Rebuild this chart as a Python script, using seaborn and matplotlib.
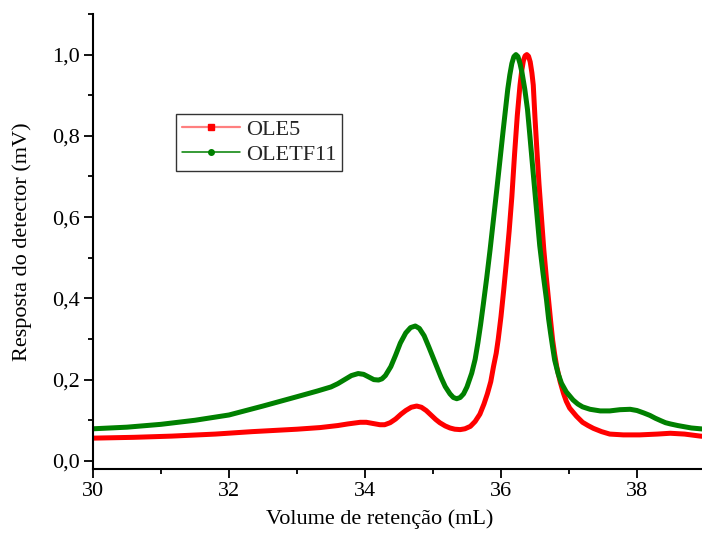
import matplotlib
matplotlib.use("Agg")
import matplotlib.pyplot as plt
from matplotlib.lines import Line2D
from matplotlib.ticker import MultipleLocator, FuncFormatter
import seaborn as sns
import pandas as pd

# Chromatogram readings: retention volume (mL) and detector response (mV)
ole5_volume = [30.0, 30.6, 31.16, 31.8, 32.34, 33.0, 33.34, 33.6, 33.75, 33.93,
               34.02, 34.12, 34.22, 34.29, 34.37, 34.45, 34.53, 34.6, 34.68, 34.76,
               34.83, 34.9, 34.97, 35.04, 35.1, 35.18, 35.25, 35.32, 35.4, 35.47,
               35.55, 35.62, 35.69, 35.75, 35.8, 35.85, 35.89, 35.93, 35.96, 36.0,
               36.04, 36.08, 36.12, 36.16, 36.2, 36.24, 36.28, 36.305,
               36.33, 36.355, 36.38, 36.405, 36.43, 36.455, 36.475, 36.5, 36.53, 36.56,
               36.595, 36.63, 36.665, 36.7, 36.73, 36.76, 36.79, 36.82, 36.87, 36.92,
               36.96, 37.01, 37.06, 37.11, 37.2, 37.28, 37.36, 37.48, 37.6, 37.8,
               38.04, 38.3, 38.49, 38.7, 38.93, 39.0]
ole5_response = [0.056, 0.058, 0.061, 0.066, 0.072, 0.078, 0.082, 0.087, 0.091, 0.095,
                 0.095, 0.092, 0.089, 0.089, 0.094, 0.103, 0.115, 0.124, 0.132, 0.135,
                 0.132, 0.124, 0.113, 0.102, 0.094, 0.086, 0.081, 0.078, 0.077, 0.079,
                 0.085, 0.097, 0.115, 0.140, 0.165, 0.195, 0.232, 0.265, 0.300, 0.355,
                 0.420, 0.490, 0.565, 0.650, 0.755, 0.850, 0.925, 0.960,
                 0.985, 0.997, 1.000, 0.996, 0.982, 0.955, 0.925, 0.845, 0.760, 0.680,
                 0.600, 0.520, 0.455, 0.396, 0.345, 0.297, 0.262, 0.232, 0.195, 0.166,
                 0.147, 0.130, 0.120, 0.110, 0.095, 0.087, 0.080, 0.072, 0.066, 0.064,
                 0.064, 0.066, 0.068, 0.066, 0.061, 0.060]

oletf11_volume = [30.0, 30.5, 31.0, 31.5, 32.0, 32.5, 33.0, 33.3, 33.5, 33.6,
                  33.7, 33.8, 33.9, 33.98, 34.05, 34.13, 34.2, 34.25, 34.3, 34.38,
                  34.45, 34.52, 34.6, 34.67, 34.74, 34.8, 34.87, 34.94, 35.0, 35.06,
                  35.12, 35.18, 35.25, 35.3, 35.35, 35.4, 35.45, 35.5, 35.57, 35.62,
                  35.66, 35.7, 35.74, 35.79, 35.84, 35.89, 35.94, 35.985, 36.03, 36.07,
                  36.1, 36.13, 36.16, 36.19, 36.22, 36.25, 36.28, 36.31, 36.35, 36.39,
                  36.42, 36.46, 36.5, 36.535, 36.57, 36.62, 36.67, 36.7, 36.73, 36.76,
                  36.79, 36.84, 36.89, 36.96, 37.06, 37.13, 37.2, 37.31, 37.46, 37.6,
                  37.75, 37.9, 38.0, 38.1, 38.19, 38.27, 38.35, 38.42, 38.49, 38.6,
                  38.7, 38.8, 38.93, 39.0]
oletf11_response = [0.079, 0.083, 0.090, 0.100, 0.113, 0.135, 0.158, 0.172, 0.182, 0.190,
                    0.200, 0.210, 0.215, 0.213, 0.207, 0.200, 0.199, 0.202, 0.210, 0.232,
                    0.260, 0.290, 0.315, 0.328, 0.332, 0.326, 0.308, 0.280, 0.255, 0.230,
                    0.205, 0.183, 0.165, 0.156, 0.153, 0.156, 0.165, 0.182, 0.216, 0.250,
                    0.290, 0.335, 0.385, 0.450, 0.520, 0.595, 0.670, 0.740, 0.810, 0.870,
                    0.915, 0.950, 0.978, 0.995, 1.000, 0.995, 0.978, 0.955, 0.915, 0.865,
                    0.810, 0.735, 0.660, 0.595, 0.530, 0.460, 0.396, 0.350, 0.314, 0.280,
                    0.248, 0.215, 0.191, 0.170, 0.150, 0.140, 0.133, 0.127, 0.123, 0.123,
                    0.126, 0.127, 0.124, 0.118, 0.112, 0.105, 0.099, 0.094, 0.091, 0.087,
                    0.084, 0.081, 0.079, 0.078]

x_major_ticks = [30, 32, 34, 36, 38]
y_major_ticks = [0.0, 0.2, 0.4, 0.6, 0.8, 1.0]

sns.set_theme(style="ticks")
plt.rcParams["font.family"] = ["Liberation Serif", "DejaVu Serif"]

fig = plt.figure(figsize=(7.02, 5.37), dpi=100)
ax = fig.add_axes([0.1325, 0.1266, 0.8717, 0.8474])

df5 = pd.DataFrame({"v": ole5_volume, "r": ole5_response})
df11 = pd.DataFrame({"v": oletf11_volume, "r": oletf11_response})

sns.lineplot(data=df5, x="v", y="r", ax=ax, color="#ff0000", lw=3.6,
             sort=False, estimator=None, solid_joinstyle="round", solid_capstyle="round")
sns.lineplot(data=df11, x="v", y="r", ax=ax, color="#008000", lw=3.6,
             sort=False, estimator=None, solid_joinstyle="round", solid_capstyle="round")

ax.set_xlim(30, 39)
ax.set_ylim(-0.02, 1.1)
ax.set_xticks(x_major_ticks)
ax.set_yticks(y_major_ticks)
ax.xaxis.set_minor_locator(MultipleLocator(1))
ax.yaxis.set_minor_locator(MultipleLocator(0.1))
ax.yaxis.set_major_formatter(FuncFormatter(lambda v, p: f"{v:.1f}".replace(".", ",")))
ax.xaxis.set_major_formatter(FuncFormatter(lambda v, p: f"{v:.0f}"))

for side in ("top", "right"):
    ax.spines[side].set_visible(False)
for side in ("left", "bottom"):
    ax.spines[side].set_linewidth(1.5)
    ax.spines[side].set_color("black")

ax.tick_params(which="major", direction="out", length=6.5, width=1.3,
               labelsize=16, color="black", labelcolor="black", pad=3)
ax.tick_params(which="minor", direction="out", length=3.5, width=1.3, color="black")

ax.set_xlabel("Volume de retenção (mL)", fontsize=16, color="black")
ax.set_ylabel("Resposta do detector (mV)", fontsize=16, color="black")
ax.xaxis.set_label_coords(0.469, -0.088)
ax.yaxis.set_label_coords(-0.1, 0.5)

handles = [
    Line2D([], [], color=(1, 0, 0, 0.5), lw=1.6, marker="s", markersize=4,
           markerfacecolor="#ff0000", markeredgecolor="#ff0000"),
    Line2D([], [], color="#008000", lw=1.1, marker="o", markersize=4,
           markerfacecolor="#008000", markeredgecolor="#008000"),
]
leg = ax.legend(handles, ["OLE5", "OLETF11"], loc="upper left",
                bbox_to_anchor=(0.136, 0.78), fontsize=16, frameon=True,
                fancybox=False, edgecolor="black", handlelength=2.6,
                handletextpad=0.3, borderpad=0.25, labelspacing=0.2,
                borderaxespad=0)
leg.get_frame().set_linewidth(1.0)

fig.savefig("out.png", dpi=100)
